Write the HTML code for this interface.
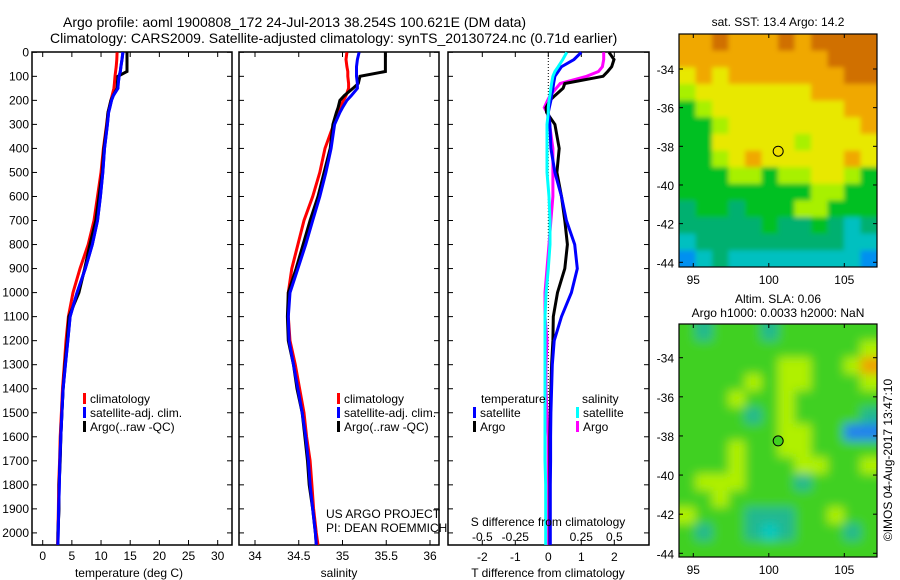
<!DOCTYPE html>
<html><head><meta charset="utf-8">
<style>
html,body{margin:0;padding:0;background:#fff;}
svg{display:block;font-family:"Liberation Sans",sans-serif;}
text{fill:#000;}
</style></head>
<body>
<svg id="fig" width="900" height="580" viewBox="0 0 900 580" xmlns="http://www.w3.org/2000/svg">
<defs>
<filter id="blurSla" x="-5%" y="-5%" width="110%" height="110%"><feGaussianBlur stdDeviation="5"/></filter>
<filter id="blurSst" x="-5%" y="-5%" width="110%" height="110%"><feGaussianBlur stdDeviation="2.5"/></filter>
<clipPath id="clipM1"><rect x="679" y="34" width="198" height="233"/></clipPath>
<clipPath id="clipM2"><rect x="679" y="324" width="198" height="233"/></clipPath>
</defs>
<text x="63" y="27" font-size="14">Argo profile: aoml 1900808_172 24-Jul-2013 38.254S 100.621E (DM data)</text>
<text x="50" y="43" font-size="14">Climatology: CARS2009. Satellite-adjusted climatology: synTS_20130724.nc (0.71d earlier)</text>
<g id="p1"></g>
<g id="p2"></g>
<g id="p3"></g>
<g id="m1"></g>
<g id="m2"></g>
<text x="778" y="26" font-size="12" text-anchor="middle">sat. SST: 13.4  Argo: 14.2</text>
<text x="778" y="303" font-size="12" text-anchor="middle">Altim. SLA: 0.06</text>
<text x="778" y="317" font-size="12" text-anchor="middle">Argo h1000: 0.0033 h2000: NaN</text>
<text transform="translate(892,460) rotate(-90)" font-size="12" text-anchor="middle">©IMOS 04-Aug-2017 13:47:10</text>
</svg>
<script>
// ---------- data ----------
const depths = [0,30,60,80,100,130,150,180,200,230,250,300,400,500,600,700,800,900,1000,1100,1200,1300,1400,1500,1600,1700,1800,1900,2000,2050];
const tempArgo = [14.45,14.45,14.45,14.45,12.9,12.8,12.75,12.1,11.7,11.4,11.2,11.0,10.5,10.2,9.65,9.1,8.1,7.2,6.2,4.5,4.2,3.8,3.5,3.3,3.1,3.0,2.8,2.8,2.6,2.6];
const tempClim = [12.75,12.7,12.6,12.5,12.4,12.3,12.2,11.9,11.7,11.4,11.2,10.95,10.4,10.0,9.4,8.8,7.8,6.4,5.2,4.4,4.0,3.7,3.4,3.2,3.0,2.9,2.75,2.7,2.6,2.55];
const tempSat = [13.75,13.6,13.4,13.3,13.1,12.95,12.9,12.1,11.8,11.5,11.3,11.1,10.6,10.3,9.9,9.4,8.5,7.3,5.9,4.7,4.3,3.9,3.5,3.3,3.1,2.95,2.85,2.75,2.65,2.6];
const salArgo = [35.49,35.49,35.49,35.49,35.2,35.18,35.12,35.02,34.97,34.95,34.93,34.89,34.86,34.79,34.72,34.63,34.55,34.47,34.38,34.37,34.38,34.44,34.48,34.54,34.57,34.6,34.62,34.66,34.69,34.7];
const salClim = [35.05,35.04,35.05,35.06,35.06,35.07,35.07,35.04,35.01,34.97,34.94,34.9,34.8,34.74,34.66,34.56,34.49,34.42,34.38,34.38,34.4,34.46,34.51,34.56,34.59,34.63,34.65,34.67,34.7,34.72];
const salSat = [35.19,35.17,35.16,35.16,35.16,35.17,35.17,35.1,35.05,35.0,34.97,34.91,34.87,34.81,34.74,34.66,34.58,34.49,34.4,34.38,34.39,34.44,34.49,34.54,34.58,34.61,34.63,34.66,34.69,34.7];
const dTsat = [1.0,0.78,0.4,0.3,0.2,0.16,0.14,0.1,0.08,0.03,0.0,0.05,0.08,0.2,0.4,0.55,0.8,0.88,0.7,0.4,0.18,0.12,0.1,0.08,0.07,0.07,0.06,0.06,0.06,0.06];
const dTargo = [1.84,1.99,1.92,1.8,1.66,0.5,0.45,0.2,0.05,-0.07,-0.05,0.2,0.33,0.26,0.4,0.5,0.58,0.5,0.28,0.15,0.14,0.1,0.08,0.06,0.05,0.05,0.05,0.05,0.05,0.05];
const dSsat = [0.14,0.11,0.075,0.05,0.035,0.025,0.02,0.012,0.005,0.0,0.0,-0.01,-0.01,-0.01,0.005,0.013,0.013,0.0,-0.017,-0.025,-0.025,-0.025,-0.025,-0.025,-0.025,-0.025,-0.02,-0.02,-0.02,-0.02];
const dSargo = [0.42,0.42,0.41,0.38,0.29,0.09,0.06,0.013,-0.005,-0.03,-0.01,0.01,0.035,0.035,0.035,0.02,0.005,-0.01,-0.025,-0.025,-0.01,-0.018,-0.018,-0.01,0.0,0.0,0.0,0.0,0.0,0.0];
const depthTicks = [0,100,200,300,400,500,600,700,800,900,1000,1100,1200,1300,1400,1500,1600,1700,1800,1900,2000];
const tempTicks = [0,5,10,15,20,25,30];
const salTicks = [34,34.5,35,35.5,36];
const salTickLabels = ["34","34.5","35","35.5","36"];
const dTTicks = [-2,-1,0,1,2];
const dSTicks = [-0.5,-0.25,0,0.25,0.5];
const dSTickLabels = ["-0.5","-0.25","0","0.25","0.5"];
const lonTicks = [95,100,105];
const latTicks = [-34,-36,-38,-40,-42,-44];
const sstGrid = [
"889888989999","888888888999","787888888899","677777778888","567777777788","556777777778",
"557777767777","556787777787","555665667765","555555556655","455455566555","444445445434",
"344444444433","234333333332"];
const slaGrid = [
"545554555555","555555555556","555555665568","555565665556","555655655555","555545655554",
"555555665522","555655665555","555655566556","566655545555","556555555555","655544455655",
"545543455545","555555555555"];
const argoLon = [100.621];
const argoLat = [-38.254];

// ---------- helpers ----------
const NS = "http://www.w3.org/2000/svg";
function mk(parent, tag, attrs){const e=document.createElementNS(NS,tag);for(const k in attrs)e.setAttribute(k,attrs[k]);parent.appendChild(e);return e;}
const yD = d => 52.3 + d*0.2403;
const xT = t => 42.7 + t*5.833;
const xS = s => 255 + (s-34)*87.5;
const xDT = t => 548.3 + t*33;
const xDS = s => 548.3 + s*132;
const PT=52, PB=545;

function frame(g,x0,x1,name){
  const r=mk(g,'rect',{x:x0,y:PT,width:x1-x0,height:PB-PT,fill:'none',stroke:'#000','stroke-width':1.5});
  
  
  depthTicks.forEach(d=>{
    const y=yD(d);
    mk(g,'line',{x1:x0,x2:x0+5,y1:y,y2:y,stroke:'#000'});
    mk(g,'line',{x1:x1-5,x2:x1,y1:y,y2:y,stroke:'#000'});
  });
}
function xticks(g,vals,labels,fx,yLab){
  vals.forEach((v,i)=>{
    const x=fx(v);
    mk(g,'line',{x1:x,x2:x,y1:PT,y2:PT+5,stroke:'#000'});
    mk(g,'line',{x1:x,x2:x,y1:PB-5,y2:PB,stroke:'#000'});
    const t=mk(g,'text',{x:x,y:yLab,'font-size':12,'text-anchor':'middle'});
    t.textContent=labels[i];
    
    
  });
}
function line(g,xs,fx,color,name){
  const pts=xs.map((v,i)=>fx(v).toFixed(1)+','+yD(depths[i]).toFixed(1)).join(' ');
  const p=mk(g,'polyline',{points:pts,fill:'none',stroke:color,'stroke-width':3,'stroke-linejoin':'miter'});
  
  
}
function txt(g,x,y,s,name,extra){
  const t=mk(g,'text',Object.assign({x:x,y:y,'font-size':12},extra||{}));
  t.textContent=s;
  
  
  return t;
}
function legend(g,x,y,items){
  items.forEach((it,i)=>{
    const r=mk(g,'rect',{x:x,y:y+i*14-10,width:3,height:11,fill:it[1]});
    
    
    txt(g,x+7,y+i*14,it[0],'legend-entry');
  });
}

// ---------- panel 1 ----------
const g1=document.getElementById('p1');
frame(g1,32,232,'temperature');
depthTicks.forEach(d=>txt(g1,29,yD(d)+4,String(d),'y-tick-label',{'text-anchor':'end'}));
xticks(g1,tempTicks,tempTicks.map(String),xT,560);
txt(g1,129,577,'temperature (deg C)','x-axis-title',{'text-anchor':'middle'});
line(g1,tempClim,xT,'#ff0000','clim-temp-line');
line(g1,tempSat,xT,'#0000ff','sat-temp-line');
line(g1,tempArgo,xT,'#000000','argo-temp-line');
line(g1,tempSat,xT,'#0000ff','sat-temp-line-top');
legend(g1,83,403,[['climatology','#ff0000'],['satellite-adj. clim.','#0000ff'],['Argo(..raw -QC)','#000']]);

// ---------- panel 2 ----------
const g2=document.getElementById('p2');
frame(g2,239,439,'salinity');
xticks(g2,salTicks,salTickLabels,xS,560);
txt(g2,339,577,'salinity','x-axis-title',{'text-anchor':'middle'});
line(g2,salClim,xS,'#ff0000','clim-sal-line');
line(g2,salArgo,xS,'#000000','argo-sal-line');
line(g2,salSat,xS,'#0000ff','sat-sal-line');
legend(g2,337,403,[['climatology','#ff0000'],['satellite-adj. clim.','#0000ff'],['Argo(..raw -QC)','#000']]);
txt(g2,326,518,'US ARGO PROJECT','project-label');
txt(g2,326,532,'PI: DEAN ROEMMICH','pi-label');

// ---------- panel 3 ----------
const g3=document.getElementById('p3');
frame(g3,448,649,'difference');
mk(g3,'line',{x1:xDT(0),x2:xDT(0),y1:PT,y2:PB,stroke:'#000','stroke-dasharray':'1,2'});
xticks(g3,dTTicks,dTTicks.map(String),xDT,561);
dSTicks.forEach((v,i)=>txt(g3,xDS(v),541,dSTickLabels[i],'s-tick-label',{'text-anchor':'middle'}));
line(g3,dSargo,xDS,'#ff00ff','argo-sal-diff-line');
line(g3,dTargo,xDT,'#000000','argo-temp-diff-line');
line(g3,dTsat,xDT,'#0000ff','sat-temp-diff-line');
line(g3,dSsat,xDS,'#00ffff','sat-sal-diff-line');
txt(g3,548,526,'S difference from climatology','s-axis-title',{'text-anchor':'middle'});
txt(g3,548,577,'T difference from climatology','t-axis-title',{'text-anchor':'middle'});
txt(g3,481,403,'temperature','legend-temperature-header');
txt(g3,582,403,'salinity','legend-salinity-header');
legend(g3,473,417,[['satellite','#0000ff'],['Argo','#000']]);
legend(g3,576,417,[['satellite','#00ffff'],['Argo','#ff00ff']]);

// ---------- maps ----------
const sstCmap=['#0030c0','#0050e0','#0090f0','#00c0c0','#00b070','#00c020','#a8f000','#e8e800','#f0a800','#d07000','#a00000'];
const slaCmap=['#0030c0','#0050e0','#2080f0','#00c8c0','#20b890','#40d020','#b0f000','#e8e800','#f0a000','#d06000','#a00000'];
function mapPanel(g,top,bot,grid,name,cmap,circleFill,latMinus34,latMinus44,filt,clip){
  const L=679,R=877;
  const xL = lon => 693.3 + (lon-95)*15.1;
  const yL = lat => latMinus34 + (-34-lat)*(latMinus44-latMinus34)/10;
  const rows=grid.length, cols=grid[0].length;
  const cw=(R-L)/cols, ch=(bot-top)/rows;
  const cg=mk(g,'g',{'clip-path':'url(#'+clip+')'});
  const ig=mk(cg,'g',{filter:'url(#'+filt+')'});
  for(let r=-1;r<=rows;r++)for(let c=-1;c<=cols;c++){
    const rr=Math.min(rows-1,Math.max(0,r)), cc=Math.min(cols-1,Math.max(0,c));
    const v=+grid[rr][cc];
    const e=mk(ig,'rect',{x:(L+c*cw).toFixed(2),y:(top+r*ch).toFixed(2),width:(cw+0.6).toFixed(2),height:(ch+0.6).toFixed(2),fill:cmap[v]});
    
    
  }
  const f=mk(g,'rect',{x:L,y:top,width:R-L,height:bot-top,fill:'none',stroke:'#000','stroke-width':1.2});
  
  
  lonTicks.forEach(lon=>{
    const x=xL(lon);
    mk(g,'line',{x1:x,x2:x,y1:top,y2:top+4,stroke:'#000'});
    mk(g,'line',{x1:x,x2:x,y1:bot-4,y2:bot,stroke:'#000'});
    txt(g,x,bot+17,String(lon),'lon-tick-label',{'text-anchor':'middle'});
  });
  latTicks.forEach(lat=>{
    const y=yL(lat);
    mk(g,'line',{x1:L,x2:L+4,y1:y,y2:y,stroke:'#000'});
    mk(g,'line',{x1:R-4,x2:R,y1:y,y2:y,stroke:'#000'});
    txt(g,L-5,y+5,String(lat),'lat-tick-label',{'text-anchor':'end'});
  });
  const c=mk(g,'circle',{cx:xL(argoLon[0]),cy:yL(argoLat[0]),r:5,fill:circleFill,stroke:'#000','stroke-width':1});
  
  
}
mapPanel(document.getElementById('m1'),34,267,sstGrid,'sst',sstCmap,'#f0e000',69,262.3,'blurSst','clipM1');
mapPanel(document.getElementById('m2'),324,557,slaGrid,'sla',slaCmap,'#40d020',357.7,553.3,'blurSla','clipM2');
</script>
</body></html>
